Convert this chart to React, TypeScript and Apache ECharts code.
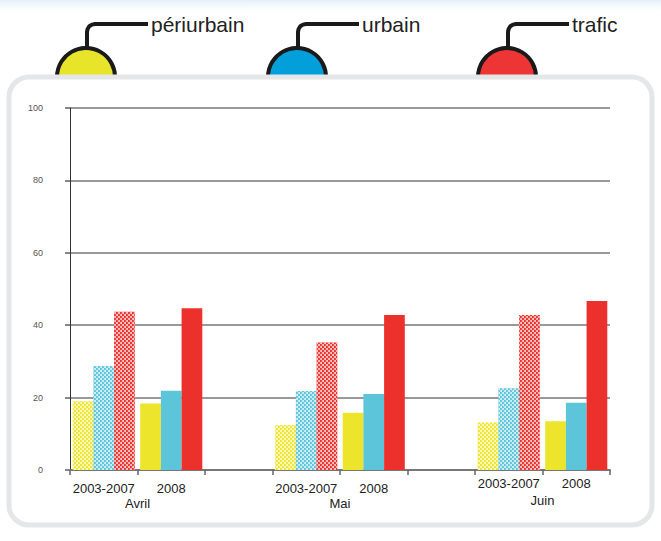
import React, { useEffect, useRef } from "react";
import * as echarts from "echarts";

const categories = ["2003-2007", "2008", "", "2003-2007", "2008", "", "2003-2007", "2008"];
const months = ["Avril", "Mai", "Juin"];
const monthPositions = [1, 4, 7];
const periurbain = [19.0, 18.4, null, 12.4, 15.8, null, 13.1, 13.5];
const urbain = [28.7, 21.9, null, 21.8, 21.0, null, 22.6, 18.6];
const trafic = [43.7, 44.7, null, 35.2, 42.8, null, 42.8, 46.7];
const seriesNames = ["périurbain", "urbain", "trafic"];
const barColors = ["#EDE52B", "#5CC5D9", "#EC302C"];
const legendColors = ["#E8E42A", "#039FDB", "#EE3535"];
const yTicks = [0, 20, 40, 60, 80, 100];

const dotDecal = {
  symbol: "circle",
  symbolSize: 1,
  color: "rgba(255,255,255,0.8)",
  dashArrayX: [[2, 2], [0, 2, 2, 0]],
  dashArrayY: [2, 0],
};

export default function App() {
  const ref = useRef<HTMLDivElement>(null);
  useEffect(() => {
    document.body.style.margin = "0";
    const chart = echarts.init(ref.current!, undefined, { renderer: "svg" });
    const mk = (vals: (number | null)[], color: string) =>
      vals.map((v, i) =>
        categories[i] === "2003-2007"
          ? { value: v, itemStyle: { color, decal: dotDecal } }
          : { value: v, itemStyle: { color } }
      );
    const legendXs = [86, 297, 507];
    const font = "Liberation Sans, Arial, sans-serif";
    const graphics: any[] = [
      {
        type: "rect",
        z: -20,
        shape: { x: 0, y: 0, width: 661, height: 14 },
        style: {
          fill: new echarts.graphic.LinearGradient(0, 0, 0, 1, [
            { offset: 0, color: "rgba(215,232,248,0.7)" },
            { offset: 1, color: "rgba(255,255,255,0)" },
          ]),
        },
      },
      {
        type: "rect",
        z: -5,
        shape: { x: 9, y: 77, width: 643, height: 448, r: 20 },
        style: { fill: "#ffffff", stroke: "#e5e6e8", lineWidth: 5 },
      },
    ];
    legendXs.forEach((cx, k) => {
      graphics.push({
        type: "circle",
        z: -10,
        shape: { cx, cy: 77, r: 29 },
        style: { fill: legendColors[k], stroke: "#1a1a1a", lineWidth: 4 },
      });
      const lx = cx + 1;
      graphics.push({
        type: "polyline",
        z: -10,
        shape: {
          points: [
            [lx, 48],
            [lx, 32],
            [lx + 0.6, 29],
            [lx + 2.3, 26.3],
            [lx + 5, 24.6],
            [lx + 8, 24],
            [lx + 61, 24],
          ],
        },
        style: { stroke: "#1a1a1a", lineWidth: 4, fill: null, lineJoin: "round" },
      });
      graphics.push({
        type: "text",
        z: -10,
        x: lx + 64,
        y: 24,
        style: {
          text: seriesNames[k],
          fontSize: 21,
          fontFamily: font,
          fill: "#222222",
          verticalAlign: "middle",
          align: "left",
        },
      });
    });

    chart.setOption({
      animation: false,
      backgroundColor: "#ffffff",
      grid: { left: 70, right: 51, top: 108, bottom: 71, containLabel: false },
      xAxis: [
        {
          type: "category",
          data: categories,
          boundaryGap: true,
          axisLine: { lineStyle: { color: "#777777", width: 2 } },
          axisTick: { show: true, interval: 0, length: 5, lineStyle: { color: "#666666", width: 1.5 } },
          axisLabel: {
            interval: 0,
            margin: 8,
            color: "#222222",
            fontSize: 13,
            fontFamily: font,
            formatter: (v: string, i: number) => (i >= 6 ? `{j|${v}}` : `{n|${v}}`),
            rich: {
              n: { lineHeight: 20, fontSize: 13, color: "#222222", fontFamily: font },
              j: { lineHeight: 10, fontSize: 13, color: "#222222", fontFamily: font },
            },
          },
          splitLine: { show: false },
        },
        {
          type: "value",
          position: "bottom",
          min: 0,
          max: 8,
          interval: 1,
          axisLine: { show: false },
          axisTick: { show: false },
          splitLine: { show: false },
          axisLabel: {
            margin: 23,
            showMinLabel: true,
            showMaxLabel: true,
            formatter: (v: number) => {
              const idx = monthPositions.indexOf(v);
              if (idx < 0) return "";
              return idx === 2 ? `{b|${months[idx]}}` : `{a|${months[idx]}}`;
            },
            rich: {
              a: { lineHeight: 20, fontSize: 13, color: "#222222", fontFamily: font },
              b: { lineHeight: 14, fontSize: 13, color: "#222222", fontFamily: font },
            },
          },
        },
      ],
      yAxis: {
        type: "value",
        min: yTicks[0],
        max: yTicks[yTicks.length - 1],
        interval: 20,
        axisLine: { show: true, lineStyle: { color: "#333333", width: 1 } },
        axisTick: { show: true, length: 5, lineStyle: { color: "#888888", width: 2 } },
        axisLabel: {
          margin: 27,
          color: "#555555",
          fontSize: 9,
          fontFamily: font,
        },
        splitLine: { show: true, lineStyle: { color: "#999999", width: 2 } },
      },
      series: [
        { name: seriesNames[0], type: "bar", data: mk(periurbain, barColors[0]), barGap: "0%", barCategoryGap: "8%" },
        { name: seriesNames[1], type: "bar", data: mk(urbain, barColors[1]), barGap: "0%", barCategoryGap: "8%" },
        { name: seriesNames[2], type: "bar", data: mk(trafic, barColors[2]), barGap: "0%", barCategoryGap: "8%" },
      ],
      graphic: graphics,
    });
    return () => chart.dispose();
  }, []);
  return (
    <div
      ref={ref}
      style={{ position: "fixed", left: 0, top: 0, width: 661, height: 541 }}
    />
  );
}
